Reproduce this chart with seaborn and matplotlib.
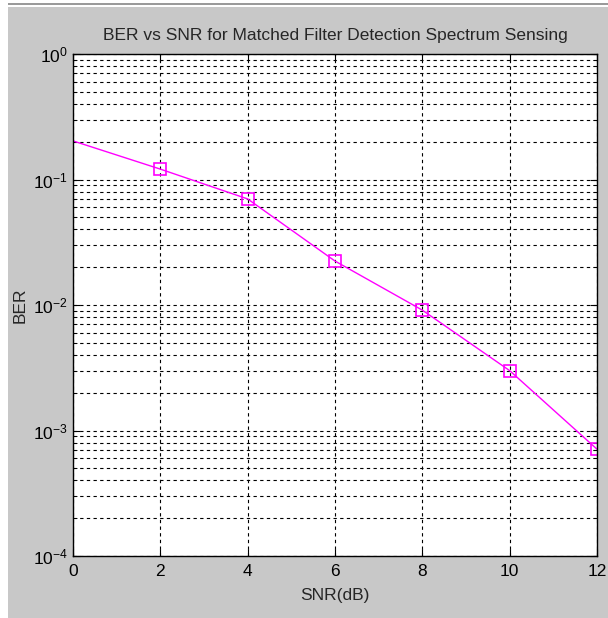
import numpy as np
import pandas as pd
import seaborn as sns
import matplotlib.pyplot as plt
from matplotlib.ticker import LogLocator, NullFormatter

# data
snr = [0, 2, 4, 6, 8, 10, 12]
ber = [0.203, 0.121, 0.070, 0.0224, 0.0091, 0.0030, 0.00071]

sns.set_style('white')
plt.rcParams['font.family'] = ['Liberation Sans', 'DejaVu Sans']
plt.rcParams['mathtext.fontset'] = 'custom'
plt.rcParams['mathtext.rm'] = 'Liberation Sans'

df = pd.DataFrame({'SNR': snr, 'BER': ber})

fig = plt.figure(figsize=(6.08, 6.18), dpi=100)
fig.patch.set_facecolor('white')
# gray MATLAB-like window
fig.patches.append(plt.Rectangle((8 / 608, 0), 1, (618 - 7) / 618, transform=fig.transFigure,
                                 facecolor='#c8c8c8', edgecolor='none', zorder=-10))
fig.patches.append(plt.Rectangle((8 / 608, (618 - 5) / 618), 1, 2 / 618, transform=fig.transFigure,
                                 facecolor='#9a9a9a', edgecolor='none', zorder=-9))

ax = fig.add_axes([73 / 608, 62 / 618, 524 / 608, 502 / 618])
ax.set_facecolor('white')

sns.lineplot(data=df, x='SNR', y='BER', ax=ax, color='#ff00ff', linewidth=1,
             marker='s', markevery=list(range(1, len(snr))), markersize=8.5,
             markerfacecolor='none', markeredgecolor='#ff00ff', markeredgewidth=1.2)

ax.set_yscale('log')
ax.set_ylim(1e-4, 1)
ax.set_xlim(0, 12)
ax.set_xticks(range(0, 13, 2))
ax.yaxis.set_major_locator(LogLocator(base=10, numticks=10))
ax.yaxis.set_minor_locator(LogLocator(base=10, subs=np.arange(2, 10), numticks=20))
ax.yaxis.set_minor_formatter(NullFormatter())

grid_kw = dict(color='black', linestyle=(0, (3, 3)), linewidth=0.8)
ax.grid(True, which='major', axis='both', **grid_kw)
ax.grid(True, which='minor', axis='y', **grid_kw)

ax.tick_params(which='both', direction='in', top=True, right=True, left=True, bottom=True,
               labelsize=12.5, colors='black')
ax.tick_params(which='major', length=5)
ax.tick_params(which='minor', length=3)
ax.tick_params(axis='x', pad=6)
for s in ax.spines.values():
    s.set_color('black')
    s.set_linewidth(1)

ax.set_title('BER vs SNR for Matched Filter Detection Spectrum Sensing', fontsize=12.5, pad=10)
ax.set_xlabel('SNR(dB)', fontsize=12.5, labelpad=6)
ax.set_ylabel('BER', fontsize=12.5)

fig.savefig('out.png', dpi=100)
